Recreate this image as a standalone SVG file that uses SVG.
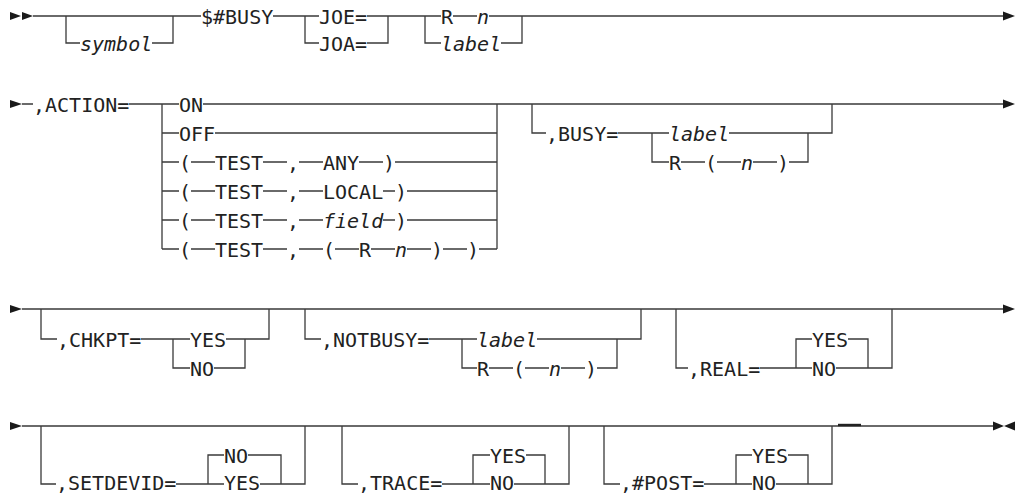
<svg xmlns="http://www.w3.org/2000/svg" width="1017" height="495" viewBox="0 0 1017 495">
<style>
.c{fill:none;stroke:#3a3a3a;stroke-width:1.3}
.a{fill:#1a1a1a}
text{font-family:"DejaVu Sans Mono","Liberation Mono",monospace;font-size:20px;fill:#222}
.i{font-style:italic}
</style>
<rect width="1017" height="495" fill="#fff"/>
<g id="connectors">
<path class="c" d="M33 16H201 M273 16H319 M367 16H441 M453 16H477 M489 16H1003
M66 16V43H80 M152 43H173V16
M305 16V43H319 M367 43H388V16
M425 16V43H441 M501 43H522V16"/>
<path class="c" d="M22 104H33 M129 104H179 M203 104H1003
M162 104V249
M162 133H179 M215 133H497
M162 162H179 M191 162H215 M263 162H287 M299 162H323 M359 162H383 M395 162H497
M162 191H179 M191 191H215 M263 191H287 M299 191H323 M383 191H395 M407 191H497
M162 220H179 M191 220H215 M263 220H287 M299 220H323 M383 220H395 M407 220H497
M162 249H179 M191 249H215 M263 249H287 M299 249H323 M335 249H359 M371 249H395 M407 249H431 M443 249H467 M479 249H497
M497 104V249
M532 104V133H546 M618 133H669 M652 133V162H669 M729 133H808 M681 162H705 M717 162H741 M753 162H777 M789 162H808V133 M808 133H832V104"/>
<path class="c" d="M22 309H1003
M41 309V339H57 M141 339H190 M173 339V368H190 M214 368H245V339 M226 339H269V309
M305 309V339H321 M429 339H477 M462 339V368H477 M489 368H513 M525 368H549 M561 368H585 M597 368H617V339 M537 339H641V309
M676 309V368H688 M760 368H812 M836 368H892V309 M796 368V339H812 M848 339H868V368"/>
<path class="c" d="M22 426H993
M41 426V484H56 M176 484H224 M260 484H305V426 M208 484V455H224 M248 455H281V484
M342 426V484H358 M442 484H490 M514 484H569V426 M473 484V455H490 M526 455H545V484
M604 426V484H620 M704 484H752 M776 484H832V426 M736 484V455H752 M788 455H808V484"/>
<path d="M838 425H861" stroke="#222" stroke-width="2.4" fill="none"/>
<polygon class="a" points="10,12 21,16 10,20"/>
<polygon class="a" points="22,12 33,16 22,20"/>
<polygon class="a" points="1003,11.5 1015,16 1003,20.5"/>
<polygon class="a" points="10,100 22,104 10,108"/>
<polygon class="a" points="1003,99.5 1015,104 1003,108.5"/>
<polygon class="a" points="10,305 22,309 10,313"/>
<polygon class="a" points="1003,304.5 1015,309 1003,313.5"/>
<polygon class="a" points="10,422 22,426 10,430"/>
<polygon class="a" points="993,421.5 1004,426 993,430.5"/>
<polygon class="a" points="1015,421.5 1004,426 1015,430.5"/>
</g>
<g id="symbol"><text class="i" x="80" y="50.5">symbol</text></g>
<g id="busy-macro"><text x="201" y="23.5">$#BUSY</text></g>
<g id="joe"><text x="319" y="23.5">JOE=</text></g>
<g id="joa"><text x="319" y="50.5">JOA=</text></g>
<g id="rn1"><text x="441" y="23.5">R</text><text class="i" x="477" y="23.5">n</text></g>
<g id="label1"><text class="i" x="441" y="50.5">label</text></g>
<g id="action"><text x="33" y="111.5">,ACTION=</text></g>
<g id="on"><text x="179" y="111.5">ON</text></g>
<g id="off"><text x="179" y="140.5">OFF</text></g>
<g id="test-any"><text x="179" y="169.5">(</text><text x="215" y="169.5">TEST</text><text x="287" y="169.5">,</text><text x="323" y="169.5">ANY</text><text x="383" y="169.5">)</text></g>
<g id="test-local"><text x="179" y="198.5">(</text><text x="215" y="198.5">TEST</text><text x="287" y="198.5">,</text><text x="323" y="198.5">LOCAL</text><text x="395" y="198.5">)</text></g>
<g id="test-field"><text x="179" y="227.5">(</text><text x="215" y="227.5">TEST</text><text x="287" y="227.5">,</text><text class="i" x="323" y="227.5">field</text><text x="395" y="227.5">)</text></g>
<g id="test-rn"><text x="179" y="256.5">(</text><text x="215" y="256.5">TEST</text><text x="287" y="256.5">,</text><text x="323" y="256.5">(</text><text x="359" y="256.5">R</text><text class="i" x="395" y="256.5">n</text><text x="431" y="256.5">)</text><text x="467" y="256.5">)</text></g>
<g id="busy"><text x="546" y="140.5">,BUSY=</text><text class="i" x="669" y="140.5">label</text><text x="669" y="169.5">R</text><text x="705" y="169.5">(</text><text class="i" x="741" y="169.5">n</text><text x="777" y="169.5">)</text></g>
<g id="chkpt"><text x="57" y="346.5">,CHKPT=</text><text x="190" y="346.5">YES</text><text x="190" y="375.5">NO</text></g>
<g id="notbusy"><text x="321" y="346.5">,NOTBUSY=</text><text class="i" x="477" y="346.5">label</text><text x="477" y="375.5">R</text><text x="513" y="375.5">(</text><text class="i" x="549" y="375.5">n</text><text x="585" y="375.5">)</text></g>
<g id="real"><text x="688" y="375.5">,REAL=</text><text x="812" y="346.5">YES</text><text x="812" y="375.5">NO</text></g>
<g id="setdevid"><text x="56" y="490">,SETDEVID=</text><text x="224" y="462.5">NO</text><text x="224" y="490">YES</text></g>
<g id="trace"><text x="358" y="490">,TRACE=</text><text x="490" y="462.5">YES</text><text x="490" y="490">NO</text></g>
<g id="post"><text x="620" y="490">,#POST=</text><text x="752" y="462.5">YES</text><text x="752" y="490">NO</text></g>
</svg>
